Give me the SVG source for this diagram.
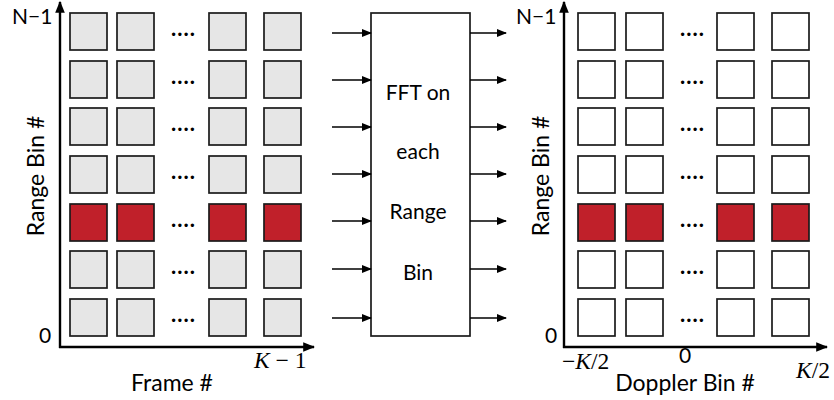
<svg xmlns="http://www.w3.org/2000/svg" width="834" height="400" viewBox="0 0 834 400">
  <style>
    text { font-family: Lato, "Open Sans", "Liberation Sans", sans-serif; fill: #000; }
    .lbl { font-size: 21px; }
    .blk { font-size: 21px; }
    .ax { font-size: 23px; }
    .math { font-family: "Liberation Serif", "DejaVu Serif", serif; font-style: italic; font-size: 23.5px; }
    .mathr { font-family: "Liberation Serif", "DejaVu Serif", serif; font-style: normal; }
    .cell { stroke: #1a1a1a; stroke-width: 1.7; }
    .gray { fill: #e6e6e6; }
    .red { fill: #c0202a; }
    .white { fill: #ffffff; }
    .axis { stroke: #000; stroke-width: 2.4; fill: none; }
    .conn { stroke: #000; stroke-width: 1.6; fill: none; }
    .dots { font-size: 22px; font-weight: bold; letter-spacing: 1px; }
  </style>
  <defs>
    <marker id="ah" viewBox="0 0 10 10" refX="9" refY="5" markerWidth="10" markerHeight="10" orient="auto" markerUnits="userSpaceOnUse">
      <path d="M0,1 L10,5 L0,9 z" fill="#000"/>
    </marker>
    <marker id="axh" viewBox="0 0 10 10" refX="9" refY="5" markerWidth="12" markerHeight="12" orient="auto" markerUnits="userSpaceOnUse">
      <path d="M0,1 L10,5 L0,9 z" fill="#000"/>
    </marker>
  </defs>

  <!-- Input matrix: range bins vs frames -->
  <g id="input-grid">
    <line class="axis" x1="60" y1="348" x2="60" y2="2" marker-end="url(#axh)"/>
    <line class="axis" x1="59" y1="347" x2="314" y2="347" marker-end="url(#axh)"/>
    <text class="lbl" x="12" y="24">N−1</text>
    <text class="lbl" x="39" y="343">0</text>
    <text class="math" x="254" y="368">K <tspan class="mathr">− 1</tspan></text>
    <text class="ax" x="172" y="391" text-anchor="middle">Frame #</text>
    <text class="ax" transform="translate(44,176) rotate(-90)" text-anchor="middle">Range Bin #</text>
    <g>
      <rect class="cell gray" x="70" y="13" width="37" height="37"/><rect class="cell gray" x="117" y="13" width="37" height="37"/><rect class="cell gray" x="209" y="13" width="37" height="37"/><rect class="cell gray" x="264" y="13" width="37" height="37"/>
      <rect class="cell gray" x="70" y="61" width="37" height="37"/><rect class="cell gray" x="117" y="61" width="37" height="37"/><rect class="cell gray" x="209" y="61" width="37" height="37"/><rect class="cell gray" x="264" y="61" width="37" height="37"/>
      <rect class="cell gray" x="70" y="108" width="37" height="37"/><rect class="cell gray" x="117" y="108" width="37" height="37"/><rect class="cell gray" x="209" y="108" width="37" height="37"/><rect class="cell gray" x="264" y="108" width="37" height="37"/>
      <rect class="cell gray" x="70" y="156" width="37" height="37"/><rect class="cell gray" x="117" y="156" width="37" height="37"/><rect class="cell gray" x="209" y="156" width="37" height="37"/><rect class="cell gray" x="264" y="156" width="37" height="37"/>
      <rect class="cell red" x="70" y="204" width="37" height="37"/><rect class="cell red" x="117" y="204" width="37" height="37"/><rect class="cell red" x="209" y="204" width="37" height="37"/><rect class="cell red" x="264" y="204" width="37" height="37"/>
      <rect class="cell gray" x="70" y="251" width="37" height="37"/><rect class="cell gray" x="117" y="251" width="37" height="37"/><rect class="cell gray" x="209" y="251" width="37" height="37"/><rect class="cell gray" x="264" y="251" width="37" height="37"/>
      <rect class="cell gray" x="70" y="299" width="37" height="37"/><rect class="cell gray" x="117" y="299" width="37" height="37"/><rect class="cell gray" x="209" y="299" width="37" height="37"/><rect class="cell gray" x="264" y="299" width="37" height="37"/>
    </g>
    <g class="dots">
      <text x="171" y="36">....</text><text x="171" y="84">....</text><text x="171" y="131">....</text><text x="171" y="179">....</text><text x="171" y="227">....</text><text x="171" y="274">....</text><text x="171" y="322">....</text>
    </g>
  </g>

  <!-- FFT processing block -->
  <g id="fft-block">
    <rect x="371" y="13" width="99" height="323" fill="#fff" stroke="#1a1a1a" stroke-width="1.7"/>
    <text class="blk" x="418" y="100" text-anchor="middle">FFT on</text>
    <text class="blk" x="418" y="159" text-anchor="middle">each</text>
    <text class="blk" x="418" y="219" text-anchor="middle">Range</text>
    <text class="blk" x="418" y="280" text-anchor="middle">Bin</text>
  </g>

  <!-- Output matrix: range bins vs Doppler bins -->
  <g id="output-grid">
    <line class="axis" x1="564" y1="348" x2="564" y2="2" marker-end="url(#axh)"/>
    <line class="axis" x1="563" y1="347" x2="827" y2="347" marker-end="url(#axh)"/>
    <text class="lbl" x="516" y="24">N−1</text>
    <text class="lbl" x="545" y="343">0</text>
    <text class="math" x="562" y="369"><tspan class="mathr">−</tspan>K<tspan class="mathr">/2</tspan></text>
    <text class="lbl" x="685" y="363" text-anchor="middle">0</text>
    <text class="math" x="796" y="378">K<tspan class="mathr">/2</tspan></text>
    <text class="ax" x="685" y="391" text-anchor="middle">Doppler Bin #</text>
    <text class="ax" transform="translate(549,176) rotate(-90)" text-anchor="middle">Range Bin #</text>
    <g>
      <rect class="cell white" x="578" y="13" width="37" height="37"/><rect class="cell white" x="626" y="13" width="37" height="37"/><rect class="cell white" x="717" y="13" width="37" height="37"/><rect class="cell white" x="772" y="13" width="37" height="37"/>
      <rect class="cell white" x="578" y="61" width="37" height="37"/><rect class="cell white" x="626" y="61" width="37" height="37"/><rect class="cell white" x="717" y="61" width="37" height="37"/><rect class="cell white" x="772" y="61" width="37" height="37"/>
      <rect class="cell white" x="578" y="108" width="37" height="37"/><rect class="cell white" x="626" y="108" width="37" height="37"/><rect class="cell white" x="717" y="108" width="37" height="37"/><rect class="cell white" x="772" y="108" width="37" height="37"/>
      <rect class="cell white" x="578" y="156" width="37" height="37"/><rect class="cell white" x="626" y="156" width="37" height="37"/><rect class="cell white" x="717" y="156" width="37" height="37"/><rect class="cell white" x="772" y="156" width="37" height="37"/>
      <rect class="cell red" x="578" y="204" width="37" height="37"/><rect class="cell red" x="626" y="204" width="37" height="37"/><rect class="cell red" x="717" y="204" width="37" height="37"/><rect class="cell red" x="772" y="204" width="37" height="37"/>
      <rect class="cell white" x="578" y="251" width="37" height="37"/><rect class="cell white" x="626" y="251" width="37" height="37"/><rect class="cell white" x="717" y="251" width="37" height="37"/><rect class="cell white" x="772" y="251" width="37" height="37"/>
      <rect class="cell white" x="578" y="299" width="37" height="37"/><rect class="cell white" x="626" y="299" width="37" height="37"/><rect class="cell white" x="717" y="299" width="37" height="37"/><rect class="cell white" x="772" y="299" width="37" height="37"/>
    </g>
    <g class="dots">
      <text x="680" y="36">....</text><text x="680" y="84">....</text><text x="680" y="131">....</text><text x="680" y="179">....</text><text x="680" y="227">....</text><text x="680" y="274">....</text><text x="680" y="322">....</text>
    </g>
  </g>

  <!-- Per-range-bin connectors into and out of the FFT block -->
  <g id="connectors">
    <line class="conn" x1="332" y1="33" x2="371" y2="33" marker-end="url(#ah)"/>
    <line class="conn" x1="332" y1="80" x2="371" y2="80" marker-end="url(#ah)"/>
    <line class="conn" x1="332" y1="127" x2="371" y2="127" marker-end="url(#ah)"/>
    <line class="conn" x1="332" y1="174" x2="371" y2="174" marker-end="url(#ah)"/>
    <line class="conn" x1="332" y1="221" x2="371" y2="221" marker-end="url(#ah)"/>
    <line class="conn" x1="332" y1="269" x2="371" y2="269" marker-end="url(#ah)"/>
    <line class="conn" x1="332" y1="318" x2="371" y2="318" marker-end="url(#ah)"/>
    <line class="conn" x1="470" y1="33" x2="506" y2="33" marker-end="url(#ah)"/>
    <line class="conn" x1="470" y1="80" x2="506" y2="80" marker-end="url(#ah)"/>
    <line class="conn" x1="470" y1="127" x2="506" y2="127" marker-end="url(#ah)"/>
    <line class="conn" x1="470" y1="174" x2="506" y2="174" marker-end="url(#ah)"/>
    <line class="conn" x1="470" y1="221" x2="506" y2="221" marker-end="url(#ah)"/>
    <line class="conn" x1="470" y1="269" x2="506" y2="269" marker-end="url(#ah)"/>
    <line class="conn" x1="470" y1="318" x2="506" y2="318" marker-end="url(#ah)"/>
  </g>
</svg>
